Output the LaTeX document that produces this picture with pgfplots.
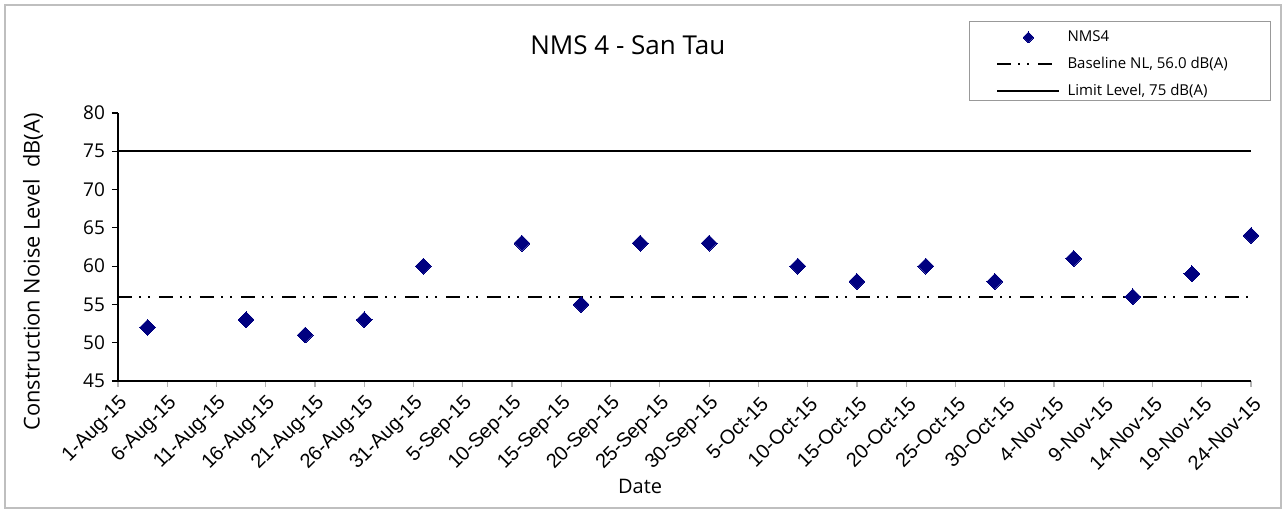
\documentclass[border=0pt]{standalone}
\usepackage{pgfplots}
\pgfplotsset{compat=1.18}
\usepackage{fontspec}
\setmainfont{Open Sans}
\newfontfamily\arialfont{Liberation Sans}
\definecolor{navy}{RGB}{0,0,128}

\begin{document}
\begin{tikzpicture}
% page size: 1285x509 px at 0.5pt per px, origin at the plot area's lower left
\path[use as bounding box] (-59pt,-64pt) rectangle (583.5pt,190.5pt);
\draw[black!25, line width=0.6pt] (-56.5pt,-63.5pt) rectangle (581.5pt,188pt);
\begin{axis}[
    scale only axis,
    width=566.5pt,
    height=134pt,
    xmin=0, xmax=115,
    ymin=45, ymax=80,
    ytick={45,50,...,80},
    xtick={0,5,...,115},
    xticklabels={1-Aug-15,6-Aug-15,11-Aug-15,16-Aug-15,21-Aug-15,26-Aug-15,31-Aug-15,
        5-Sep-15,10-Sep-15,15-Sep-15,20-Sep-15,25-Sep-15,30-Sep-15,
        5-Oct-15,10-Oct-15,15-Oct-15,20-Oct-15,25-Oct-15,30-Oct-15,
        4-Nov-15,9-Nov-15,14-Nov-15,19-Nov-15,24-Nov-15},
    axis x line*=bottom,
    axis y line*=left,
    axis line style={line width=0.7pt, -},
    tick align=outside,
    major tick length=3pt,
    x tick style={black!30, line width=0.6pt},
    y tick style={black, line width=0.6pt},
    xticklabel style={font=\arialfont\fontsize{10}{12}\selectfont, rotate=45, anchor=east, xshift=1pt, yshift=-7pt},
    yticklabel style={font=\fontsize{9.5}{11}\selectfont},
    /pgf/number format/assume math mode=true,
    title={NMS 4 - San Tau},
    every axis title/.style={at={(axis description cs:0.450,1.254)}, anchor=center, font=\fontsize{13}{15}\selectfont},
    xlabel={Date},
    xlabel style={at={(axis description cs:0.4608,-0.392)}, anchor=center, font=\fontsize{10}{12}\selectfont},
    ylabel={Construction Noise Level\ \ dB(A)},
    ylabel style={at={(axis description cs:-0.075,0.407)}, anchor=center, font=\fontsize{10.9}{12}\selectfont},
    clip=false,
    legend style={at={(axis description cs:0.751,1.332)}, anchor=north west,
        draw=none, fill=none, font=\fontsize{7.5}{9}\selectfont,
        inner xsep=4pt, inner ysep=1pt, row sep=2.25pt},
    legend cell align=left,
    legend image code/.code={\path (0pt,0pt) (42pt,0pt); \draw[#1] (9.5pt,0pt) -- (40.5pt,0pt);},
]
\addplot[only marks, mark=square*, mark size=2.8pt, mark options={rotate=45, fill=navy, draw=navy, line width=0pt},
    legend image code/.code={\path (0pt,0pt) (42pt,0pt); \draw[mark=square*, mark size=1.9pt, mark options={rotate=45, fill=navy, draw=navy, line width=0pt}] plot coordinates {(25pt,0pt)};}]
coordinates {
    (3,52) (13,53) (19,51) (25,53) (31,60) (41,63) (47,55) (53,63) (60,63)
    (69,60) (75,58) (82,60) (89,58) (97,61) (103,56) (109,59) (115,64)
};
\addlegendentry{NMS4}
\addplot[black, line width=1.1pt, dash pattern=on 7pt off 3.5pt on 1pt off 3.5pt on 1pt off 4.5pt]
coordinates {(0,56) (115,56)};
\addlegendentry{Baseline NL, 56.0 dB(A)}
\addplot[black, line width=0.9pt] coordinates {(0,75) (115,75)};
\addlegendentry{Limit Level, 75 dB(A)}
\end{axis}
% legend frame
\draw[black!40, line width=0.5pt] (425.5pt,140pt) rectangle (576pt,179.5pt);
\end{tikzpicture}
\end{document}
